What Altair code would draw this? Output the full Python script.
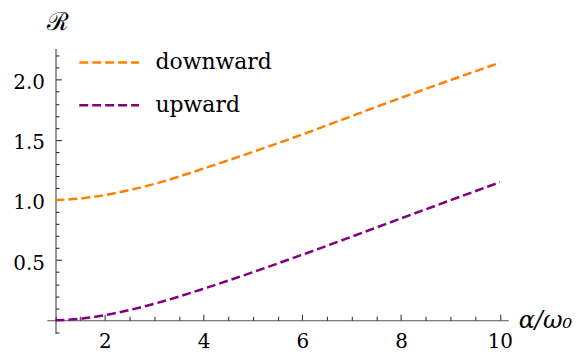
import altair as alt
import pandas as pd

# ---- data ----
x_vals = [1, 1.5, 2, 2.5, 3, 4, 5, 6, 7, 8, 9, 10]
downward = [1.0, 1.012, 1.041, 1.083, 1.133, 1.262, 1.40, 1.545, 1.698, 1.85, 1.997, 2.142]
upward = [0.0, 0.012, 0.042, 0.085, 0.137, 0.262, 0.40, 0.545, 0.695, 0.847, 0.998, 1.148]
series_names = ["downward", "upward"]
series_colors = ["#FF8000", "#800080"]

x_major = [2, 4, 6, 8, 10]
x_minor = [1, 1.5, 2.5, 3, 3.5, 4.5, 5, 5.5, 6.5, 7, 7.5, 8.5, 9, 9.5]
y_major = [0.5, 1.0, 1.5, 2.0]
y_minor = [-0.1, 0.1, 0.2, 0.3, 0.4, 0.6, 0.7, 0.8, 0.9, 1.1, 1.2, 1.3, 1.4,
           1.6, 1.7, 1.8, 1.9, 2.1, 2.2]

X_DOMAIN = [0.825, 10.17]
Y_DOMAIN = [-0.11, 2.26]
X_ORIGIN = 1.0
Y_ORIGIN = 0.0

W = 463
H = 286

rows = []
for name, vals in zip(series_names, [downward, upward]):
    for xv, yv in zip(x_vals, vals):
        rows.append({"x": xv, "value": yv, "series": name})
df = pd.DataFrame(rows)

# pixel offsets of the crossing axes
x_org_px = (X_ORIGIN - X_DOMAIN[0]) / (X_DOMAIN[1] - X_DOMAIN[0]) * W
y_org_px = (Y_ORIGIN - Y_DOMAIN[0]) / (Y_DOMAIN[1] - Y_DOMAIN[0]) * H

FONT = "DejaVu Serif"
AXC = "#555555"

xs = alt.Scale(domain=X_DOMAIN, nice=False, zero=False)
ys = alt.Scale(domain=Y_DOMAIN, nice=False, zero=False)

lines = alt.Chart(df).mark_line(
    strokeDash=[9, 4], strokeWidth=2.5, interpolate="monotone"
).encode(
    x=alt.X("x:Q", scale=xs, axis=alt.Axis(
        orient="bottom", values=x_major, format="d", domain=False, ticks=False,
        tickSize=0, grid=False, labelPadding=11, offset=-y_org_px, title=None,
        labelFont=FONT, labelFontSize=20, labelColor="black")),
    y=alt.Y("value:Q", scale=ys, axis=alt.Axis(
        orient="left", values=y_major, format=".1f", domain=False, ticks=False,
        tickSize=0, grid=False, labelPadding=11, offset=-x_org_px, title=None,
        labelFont=FONT, labelFontSize=20, labelColor="black", labelOffset=3)),
    color=alt.Color("series:N", scale=alt.Scale(domain=series_names, range=series_colors),
                    legend=alt.Legend(orient="none", legendX=31, legendY=-17.5, title=None,
                                      symbolType="stroke", symbolSize=3600,
                                      symbolStrokeWidth=2.5, symbolDash=[9, 4],
                                      labelFont=FONT, labelFontSize=22, labelColor="black",
                                      labelOffset=15, padding=0, rowPadding=0)),
)

major = alt.Chart(df).mark_line(opacity=0).encode(
    x=alt.X("x:Q", scale=xs, axis=alt.Axis(
        orient="top", values=x_major, labels=False, domain=True, domainColor=AXC,
        domainWidth=1.2, ticks=True, tickSize=6, tickColor="#222222", grid=False,
        offset=-(H - y_org_px), title="α/ω₀", titleX=W + 10, titleY=0,
        titleAlign="left", titleBaseline="middle", titleFont=FONT, titleFontSize=24,
        titleFontStyle="italic", titleFontWeight="normal", titleColor="black")),
    y=alt.Y("value:Q", scale=ys, axis=alt.Axis(
        orient="right", values=y_major, labels=False, domain=True, domainColor=AXC,
        domainWidth=1.2, ticks=True, tickSize=6, tickColor="#222222", grid=False,
        offset=-(W - x_org_px), title="ℛ", titleAngle=0, titleX=2, titleY=-39,
        titleAlign="center", titleBaseline="top", titleFont=FONT,
        titleFontSize=25, titleFontWeight="normal", titleColor="black")),
)

minor = alt.Chart(df).mark_line(opacity=0).encode(
    x=alt.X("x:Q", scale=xs, axis=alt.Axis(
        orient="top", values=x_minor, labels=False, domain=False, ticks=True,
        tickSize=4, tickColor="#222222", grid=False, offset=-(H - y_org_px), title=None)),
    y=alt.Y("value:Q", scale=ys, axis=alt.Axis(
        orient="right", values=y_minor, labels=False, domain=False, ticks=True,
        tickSize=3.5, tickColor="#222222", grid=False, offset=-(W - x_org_px), title=None)),
)

chart = alt.layer(lines, major, minor).resolve_scale(
    x="independent", y="independent"
).properties(
    width=W, height=H,
    autosize=alt.AutoSizeParams(type="none"),
    padding={"left": 39, "top": 40, "right": 70, "bottom": 24},
).configure_view(stroke=None)

chart.save("out.html", embed_options={"renderer": "svg", "actions": False})
